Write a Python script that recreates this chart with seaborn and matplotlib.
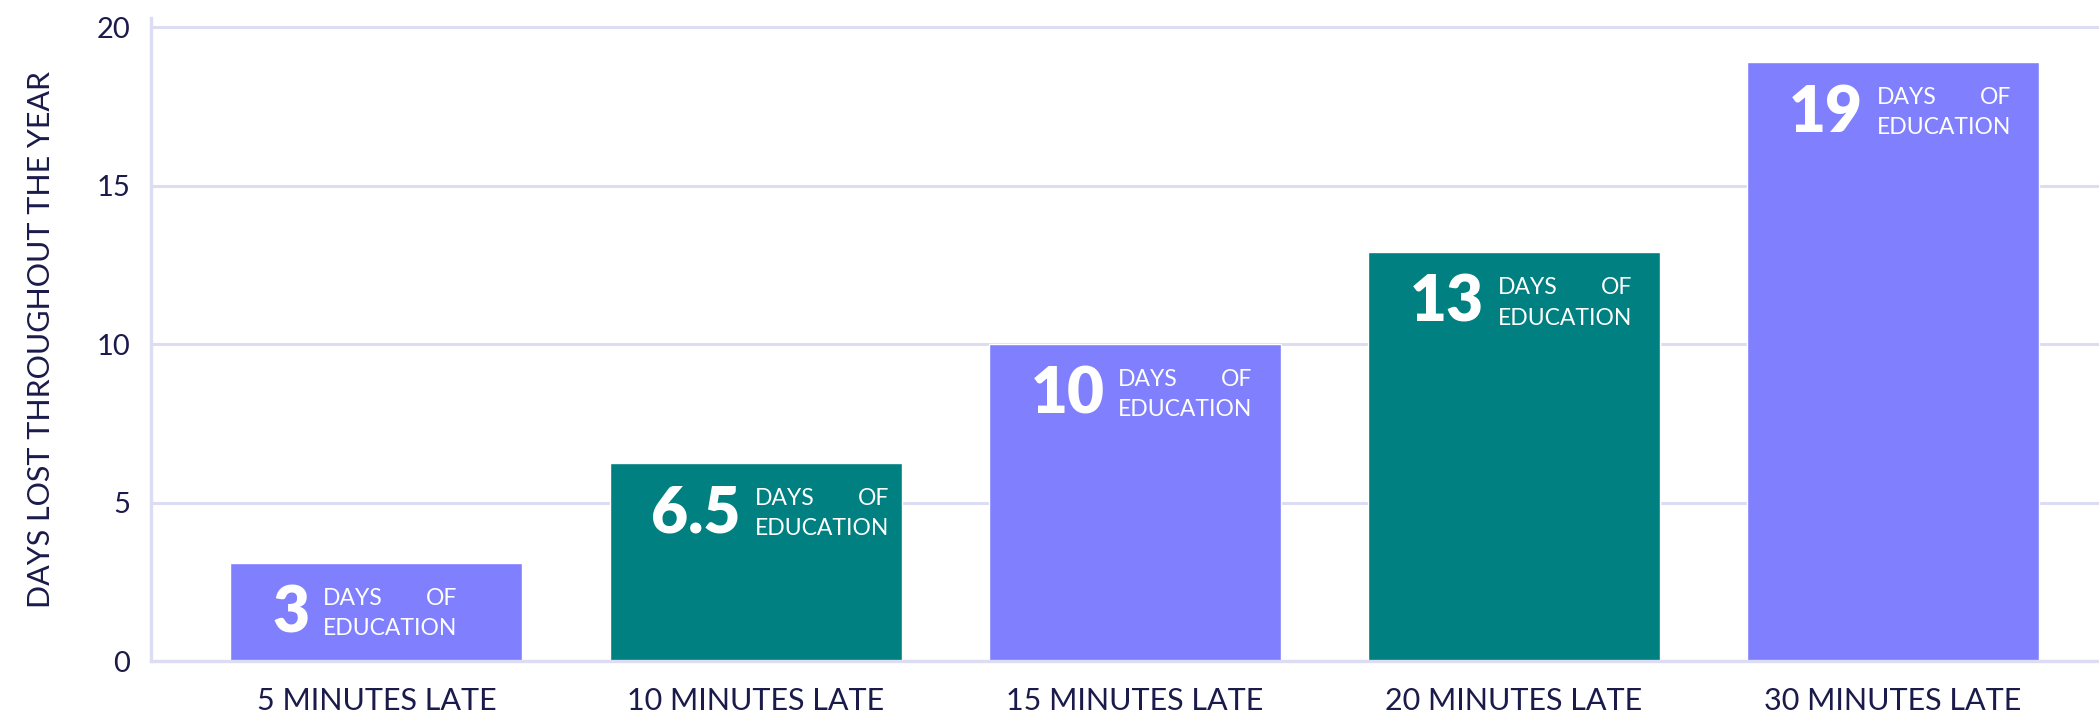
import numpy as np
import pandas as pd
import matplotlib.pyplot as plt
import seaborn as sns

# datos
categorias = ['5 MINUTES LATE', '10 MINUTES LATE', '15 MINUTES LATE',
              '20 MINUTES LATE', '30 MINUTES LATE']
dias = [3.1, 6.25, 10.0, 12.9, 18.9]
etiquetas = ['3', '6.5', '10', '13', '19']
colores = ['#8080FF', '#008080', '#8080FF', '#008080', '#8080FF']

df = pd.DataFrame({'categoria': categorias, 'dias': dias})

sns.set_style('white')
plt.rcParams['font.family'] = ['Lato', 'DejaVu Sans']

navy = '#1b1b4b'
lavanda = '#dcdcf2'

fig = plt.figure(figsize=(20.99, 7.21), dpi=100)
ax = fig.add_axes([0.072, 0.0832, 0.928, 0.8925])

sns.barplot(data=df, x='categoria', y='dias', hue='categoria',
            palette=colores, width=0.77, legend=False, ax=ax, saturation=1)

ax.set_ylim(0, 20.3)
ax.set_xlim(-0.594, 4.543)
ax.set_yticks([0, 5, 10, 15, 20])
ax.yaxis.grid(True, color=lavanda, linewidth=2.2)
ax.set_axisbelow(True)
for s in ['top', 'right']:
    ax.spines[s].set_visible(False)
for s in ['left', 'bottom']:
    ax.spines[s].set_color(lavanda)
    ax.spines[s].set_linewidth(2.4)

ax.tick_params(axis='y', length=0, pad=15, labelsize=21, labelcolor=navy)
ax.tick_params(axis='x', length=0, pad=19, labelsize=22, labelcolor=navy)
ax.set_xlabel('')
ax.set_ylabel('DAYS LOST THROUGHOUT THE YEAR', fontsize=22, color=navy, labelpad=30)

# textos dentro de las barras
for p, lab in zip(ax.patches, etiquetas):
    num = ax.annotate(lab, xy=(p.get_x(), p.get_height()), xycoords='data',
                      xytext=(30, -37), textcoords='offset points',
                      ha='left', va='center', fontsize=46, fontweight='heavy',
                      color='white')
    edu = ax.annotate('EDUCATION', xy=(1, 0.5), xycoords=num,
                      xytext=(10, -10.5), textcoords='offset points',
                      ha='left', va='center', fontsize=16.5, color='white')
    ax.annotate('DAYS', xy=(0, 0.5), xycoords=edu,
                xytext=(0, 22), textcoords='offset points',
                ha='left', va='center', fontsize=16.5, color='white')
    ax.annotate('OF', xy=(1, 0.5), xycoords=edu,
                xytext=(0, 22), textcoords='offset points',
                ha='right', va='center', fontsize=16.5, color='white')

plt.savefig('out.png', dpi=100)
